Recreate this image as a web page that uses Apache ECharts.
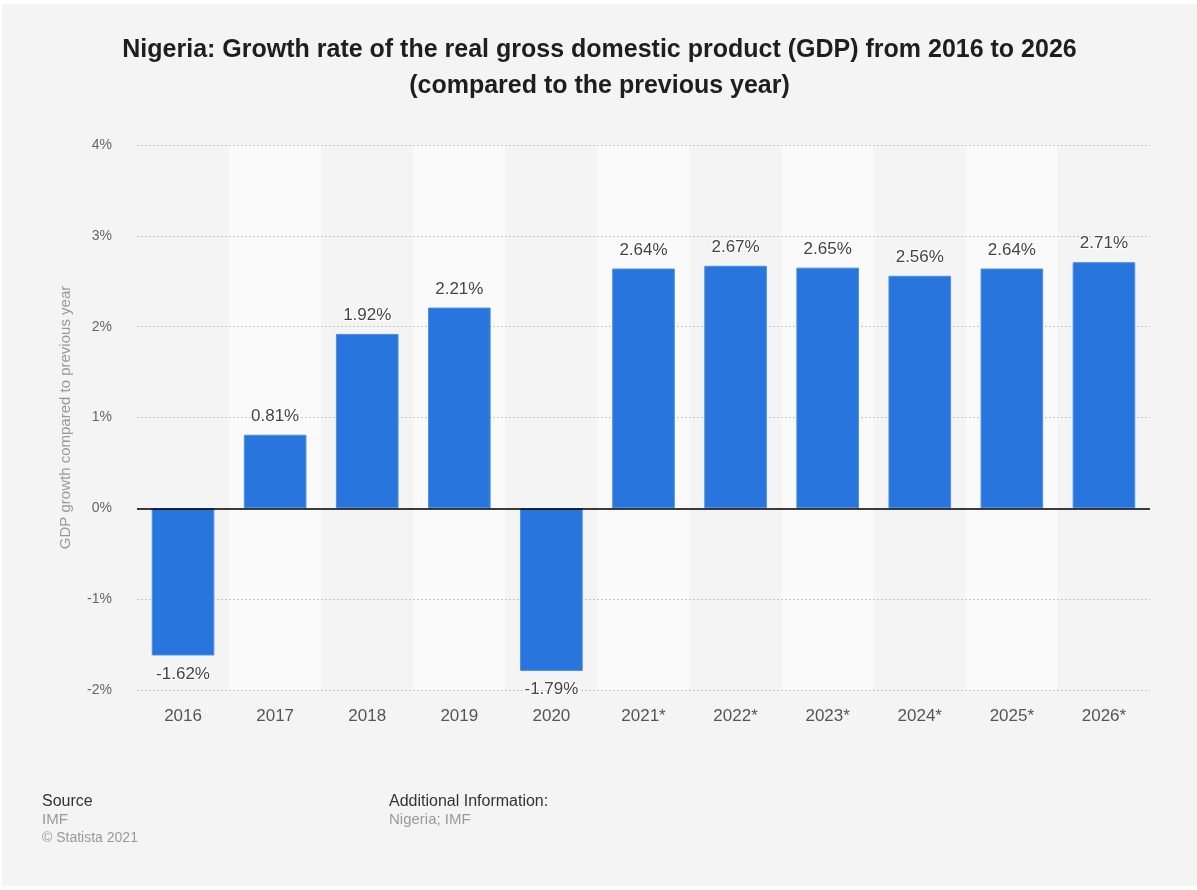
<!DOCTYPE html>
<html>
<head>
<meta charset="utf-8">
<script src="https://cdn.jsdelivr.net/npm/echarts@6/dist/echarts.min.js"></script>
<style>
  html, body { margin: 0; padding: 0; background: #ffffff; }
  #chart { position: absolute; left: 2px; top: 4px; width: 1195px; height: 882px; background: #f4f4f4; }
</style>
</head>
<body>
<div id="chart"></div>
<script>
const categories = ['2016', '2017', '2018', '2019', '2020', '2021*', '2022*', '2023*', '2024*', '2025*', '2026*'];
const growthValues = [-1.62, 0.81, 1.92, 2.21, -1.79, 2.64, 2.67, 2.65, 2.56, 2.64, 2.71];
const yTicks = { min: -2, max: 4, interval: 1 };
const titleLines = ['Nigeria: Growth rate of the real gross domestic product (GDP) from 2016 to 2026', '(compared to the previous year)'];
const yAxisName = 'GDP growth compared to previous year';

const FONT = '"Liberation Sans", Arial, Helvetica, sans-serif';
const chart = echarts.init(document.getElementById('chart'), null, { renderer: 'canvas' });

const seriesData = growthValues.map(v => ({
  value: v,
  label: { position: v < 0 ? 'bottom' : 'top' }
}));

chart.setOption({
  backgroundColor: '#f4f4f4',
  animation: false,
  title: {
    text: titleLines.join('\n'),
    left: 'center',
    top: 23,
    textStyle: { fontFamily: FONT, fontSize: 25, fontWeight: 'bold', color: '#1e1e1e', lineHeight: 36 }
  },
  grid: { left: 135, right: 47, top: 141, bottom: 196 },
  xAxis: {
    type: 'category',
    z: 0,
    data: categories,
    boundaryGap: true,
    axisLine: { show: false },
    axisTick: { show: false },
    axisLabel: { color: '#555', fontSize: 17, fontFamily: FONT, margin: 18 },
    splitArea: { show: true, areaStyle: { color: ['#f4f4f4', '#fafafa'] } }
  },
  yAxis: {
    type: 'value',
    z: 1,
    min: yTicks.min,
    max: yTicks.max,
    interval: yTicks.interval,
    name: yAxisName,
    nameLocation: 'middle',
    nameGap: 64,
    nameTextStyle: { color: '#999', fontSize: 15, fontFamily: FONT },
    axisLine: { show: false },
    axisTick: { show: false },
    axisLabel: { color: '#666', fontSize: 14, fontFamily: FONT, margin: 25, formatter: '{value}%' },
    splitLine: { show: true, lineStyle: { color: '#c8c8c8', type: [2, 2], width: 1 } }
  },
  series: [{
    type: 'bar',
    z: 3,
    data: seriesData,
    barWidth: '68%',
    itemStyle: { color: '#2876dd', borderColor: '#4b8ee6', borderWidth: 1 },
    label: {
      show: true,
      distance: 10,
      color: '#444',
      fontSize: 17,
      fontFamily: FONT,
      textBorderColor: '#ffffff',
      textBorderWidth: 2,
      formatter: p => p.value.toFixed(2) + '%'
    },
    markLine: {
      silent: true,
      symbol: 'none',
      label: { show: false },
      lineStyle: { color: '#000', type: 'solid', width: 1.5 },
      data: [{ yAxis: 0 }]
    }
  }],
  graphic: [
    { type: 'text', x: 40, y: 798, style: { text: 'Source', fill: '#333', font: '16px ' + FONT, verticalAlign: 'middle' } },
    { type: 'text', x: 40, y: 816, style: { text: 'IMF', fill: '#999', font: '15px ' + FONT, verticalAlign: 'middle' } },
    { type: 'text', x: 40, y: 834, style: { text: '© Statista 2021', fill: '#999', font: '14px ' + FONT, verticalAlign: 'middle' } },
    { type: 'text', x: 387, y: 798, style: { text: 'Additional Information:', fill: '#333', font: '16px ' + FONT, verticalAlign: 'middle' } },
    { type: 'text', x: 387, y: 816, style: { text: 'Nigeria; IMF', fill: '#999', font: '15px ' + FONT, verticalAlign: 'middle' } }
  ]
});
</script>
</body>
</html>
